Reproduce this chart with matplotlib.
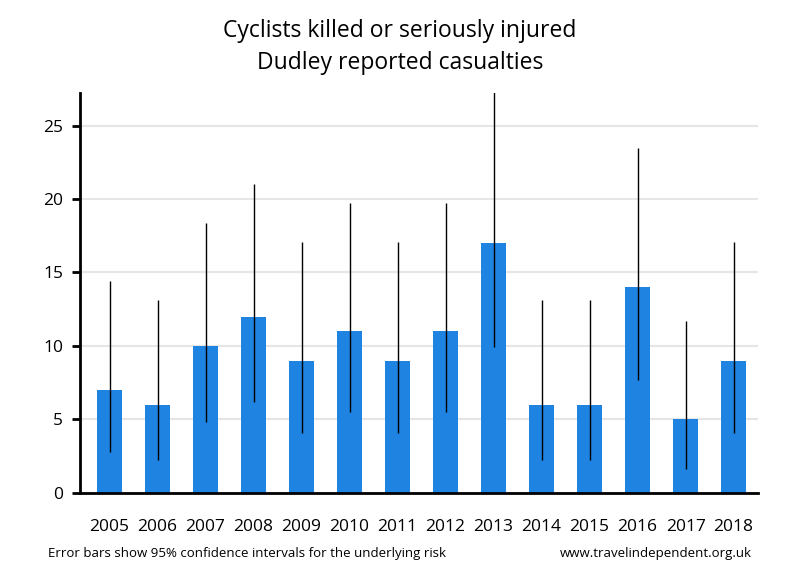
import numpy as np
import matplotlib
matplotlib.use("Agg")
import matplotlib.pyplot as plt

plt.rcParams['font.family'] = ['Open Sans', 'DejaVu Sans']

# Dados
years = ["2005", "2006", "2007", "2008", "2009", "2010", "2011",
         "2012", "2013", "2014", "2015", "2016", "2017", "2018"]
casualties = [7, 6, 10, 12, 9, 11, 9, 11, 17, 6, 6, 14, 5, 9]
ci_low = [2.8, 2.2, 4.8, 6.2, 4.1, 5.5, 4.1, 5.5, 9.9, 2.2, 2.2, 7.7, 1.6, 4.1]
ci_high = [14.4, 13.1, 18.4, 21.0, 17.1, 19.7, 17.1, 19.7, 27.4, 13.1, 13.1, 23.5, 11.7, 17.1]

fig = plt.figure(figsize=(8, 5.8), dpi=100)
ax = fig.add_axes([0.1, 0.1505, 0.847, 0.6886])

x = np.arange(len(years))
ax.bar(x, casualties, width=0.52, color="#1e83e1", zorder=2)
ax.vlines(x, ci_low, ci_high, color="black", lw=1, zorder=3)

ax.set_xlim(-0.615, 13.5)
ax.set_ylim(0, 27.2)
ax.set_yticks([0, 5, 10, 15, 20, 25])
ax.set_xticks(x)
ax.set_xticklabels(years)
ax.tick_params(axis="x", length=0, pad=19, labelsize=12.5)
ax.tick_params(axis="y", length=6, width=2, pad=6, labelsize=12.5)
ax.yaxis.grid(True, color="#e6e6e6", lw=1.5, zorder=0)
ax.set_axisbelow(True)

for s in ["top", "right"]:
    ax.spines[s].set_visible(False)
ax.spines["left"].set_linewidth(2)
ax.spines["bottom"].set_linewidth(2)

fig.text(0.5, 0.947, "Cyclists killed or seriously injured", ha="center", va="center", fontsize=16.5)
fig.text(0.5, 0.892, "Dudley reported casualties", ha="center", va="center", fontsize=16.5)
fig.text(0.06, 0.045, "Error bars show 95% confidence intervals for the underlying risk",
         ha="left", va="center", fontsize=9.5)
fig.text(0.94, 0.045, "www.travelindependent.org.uk", ha="right", va="center", fontsize=9.5)

fig.savefig("out.png", dpi=100)
